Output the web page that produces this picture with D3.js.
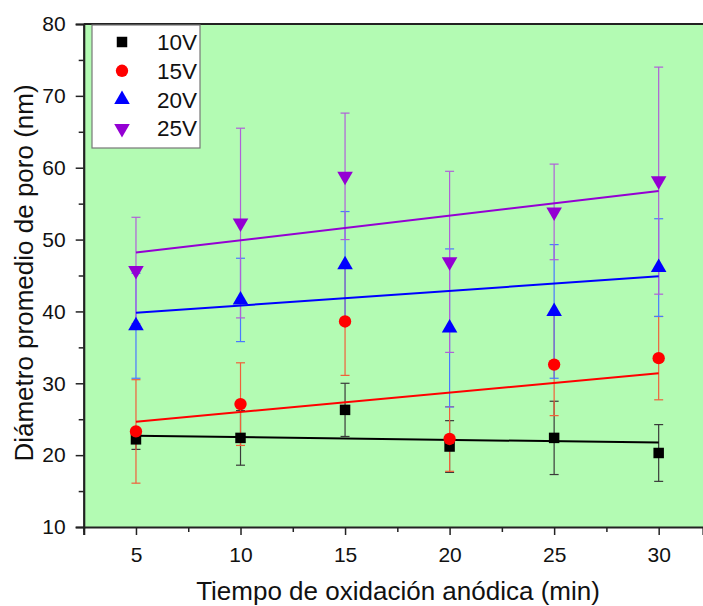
<!DOCTYPE html>
<html>
<head>
<meta charset="utf-8">
<script src="https://cdn.jsdelivr.net/npm/d3@7"></script>
<style>
  body { margin: 0; background: #fff; }
  svg text { font-family: "Liberation Sans", Arial, sans-serif; fill: #111; }
</style>
</head>
<body>
<div id="chart"></div>
<script>
// oxidation time (min)
const times = [5, 10, 15, 20, 25, 30];
const seriesNames = ["10V", "15V", "20V", "25V"];

// mean pore diameter (nm) and error per series
const d10 = [22.2, 22.4, 26.3, 21.2, 22.4, 20.3];
const e10 = [1.4, 3.8, 3.7, 3.6, 5.1, 3.95];
const d15 = [23.3, 27.1, 38.6, 22.25, 32.6, 33.5];
const e15 = [7.2, 5.75, 7.5, 4.5, 7.1, 5.8];
const d20 = [38.0, 41.6, 46.5, 37.7, 40.0, 46.1];
const e20 = [7.3, 5.8, 7.4, 11.0, 9.3, 6.8];
const d25 = [45.7, 52.3, 58.8, 46.9, 53.85, 58.2];
const e25 = [7.4, 13.2, 8.8, 12.6, 6.65, 15.8];

// linear fit values at t=5 and t=30
const fitStart = [22.7, 24.65, 39.8, 48.2];
const fitEnd = [21.75, 31.4, 44.9, 56.75];

const colors = ["#000000", "#ff0000", "#0000ff", "#9400d3"];
const errColors = ["#3a3a3a", "#f0603a", "#4a78ff", "#b060d8"];
const symbols = [d3.symbolSquare, d3.symbolCircle, d3.symbolTriangle, d3.symbolTriangle];

const yTicks = [10, 20, 30, 40, 50, 60, 70, 80];
const xTicks = [5, 10, 15, 20, 25, 30];

const W = 703, H = 606;
const svg = d3.select("#chart").append("svg")
    .attr("width", W).attr("height", H);

const x = d3.scaleLinear().domain([2.5, 32.12]).range([83.7, 703]);
const y = d3.scaleLinear().domain([10, 80]).range([527, 24]);

// plot background
svg.append("rect")
    .attr("x", x(2.5)).attr("y", y(80))
    .attr("width", W - x(2.5)).attr("height", y(10) - y(80))
    .attr("fill", "#b3fbb3");

// top frame
svg.append("line")
    .attr("x1", x(2.5)).attr("x2", W)
    .attr("y1", y(80)).attr("y2", y(80))
    .attr("stroke", "#222").attr("stroke-width", 2);

// axes
const yAxis = d3.axisLeft(y).tickValues(yTicks).tickSize(8).tickPadding(10);
const yMinor = d3.axisLeft(y).tickValues(d3.range(15, 80, 10)).tickSize(5).tickFormat("");
const xAxis = d3.axisBottom(x).tickValues(xTicks).tickSize(8).tickPadding(12);
const xMinor = d3.axisBottom(x).tickValues([2.5, 7.5, 12.5, 17.5, 22.5, 27.5]).tickSize(5).tickFormat("");

const gy = svg.append("g").attr("transform", `translate(${x(2.5)},0)`).call(yAxis);
svg.append("g").attr("transform", `translate(${x(2.5)},0)`).call(yMinor)
    .select(".domain").remove();
const gx = svg.append("g").attr("transform", `translate(0,${y(10)})`).call(xAxis);
svg.append("g").attr("transform", `translate(0,${y(10)})`).call(xMinor)
    .select(".domain").remove();

svg.selectAll(".domain").attr("stroke", "#222").attr("stroke-width", 2.2);
svg.selectAll(".tick line").attr("stroke", "#222").attr("stroke-width", 1.5);
gy.selectAll(".tick text").attr("font-size", 21).attr("fill", "#111");
gx.selectAll(".tick text").attr("font-size", 21).attr("fill", "#111");

// axis titles
svg.append("text")
    .attr("x", 398).attr("y", 600)
    .attr("text-anchor", "middle")
    .attr("font-size", 26)
    .text("Tiempo de oxidación anódica (min)");
svg.append("text")
    .attr("transform", `translate(33,273) rotate(-90)`)
    .attr("text-anchor", "middle")
    .attr("font-size", 26)
    .text("Diámetro promedio de poro (nm)");

const series = [
    { vals: d10, errs: e10 },
    { vals: d15, errs: e15 },
    { vals: d20, errs: e20 },
    { vals: d25, errs: e25 }
];

// error bars
series.forEach((s, i) => {
    const g = svg.append("g").attr("class", "err");
    times.forEach((t, j) => {
        const lo = s.vals[j] - s.errs[j], hi = s.vals[j] + s.errs[j];
        g.append("line")
            .attr("x1", x(t)).attr("x2", x(t))
            .attr("y1", y(lo)).attr("y2", y(hi))
            .attr("stroke", errColors[i]).attr("stroke-width", 1.2);
        [lo, hi].forEach(v => {
            g.append("line")
                .attr("x1", x(t) - 4.5).attr("x2", x(t) + 4.5)
                .attr("y1", y(v)).attr("y2", y(v))
                .attr("stroke", errColors[i]).attr("stroke-width", 1.2);
        });
    });
});

// fit lines
series.forEach((s, i) => {
    svg.append("line")
        .attr("x1", x(5)).attr("x2", x(30))
        .attr("y1", y(fitStart[i])).attr("y2", y(fitEnd[i]))
        .attr("stroke", colors[i]).attr("stroke-width", 2);
});

// markers
function marker(i) {
    const size = [110, 120, 105, 105][i];
    return d3.symbol().type(symbols[i]).size(size)();
}
series.forEach((s, i) => {
    svg.append("g").selectAll("path")
        .data(times.map((t, j) => [t, s.vals[j]]))
        .join("path")
        .attr("d", marker(i))
        .attr("transform", d => `translate(${x(d[0])},${y(d[1])})${i === 3 ? " rotate(180)" : ""}`)
        .attr("fill", colors[i]);
});

// legend
const lg = svg.append("g");
lg.append("rect")
    .attr("x", 92).attr("y", 25).attr("width", 108).attr("height", 123)
    .attr("fill", "#fff").attr("stroke", "#777").attr("stroke-width", 1.2);
seriesNames.forEach((name, i) => {
    const cy = 42 + i * 28.8;
    lg.append("path")
        .attr("d", marker(i))
        .attr("transform", `translate(122,${cy})${i === 3 ? " rotate(180)" : ""}`)
        .attr("fill", colors[i]);
    lg.append("text")
        .attr("x", 197).attr("y", cy + 8)
        .attr("text-anchor", "end")
        .attr("font-size", 22.5)
        .text(name);
});
</script>
</body>
</html>
